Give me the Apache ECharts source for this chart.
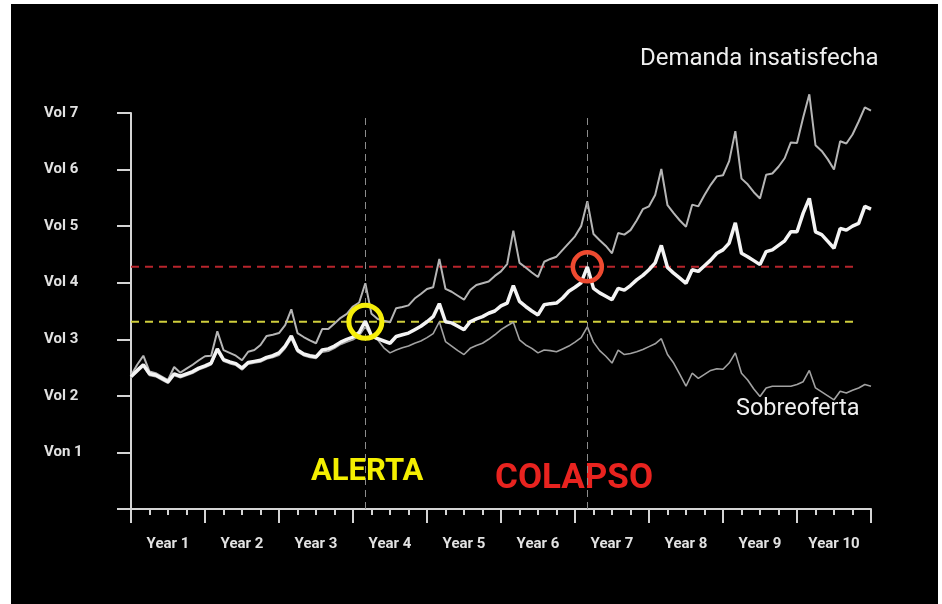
<!DOCTYPE html>
<html><head><meta charset="utf-8">
<script src="https://cdn.jsdelivr.net/npm/echarts@6/dist/echarts.min.js"></script>
<style>
html,body{margin:0;padding:0;background:#fff;}
#bg{position:absolute;left:11px;top:4px;width:927px;height:600px;background:#000;}
#chart{position:absolute;left:0;top:0;width:942px;height:604px;}
</style></head><body>
<div id="bg"></div><div id="chart"></div>
<script>
// ---- data ----
const yearLabels = ['Year 1','Year 2','Year 3','Year 4','Year 5','Year 6','Year 7','Year 8','Year 9','Year 10'];
const yTickLabels = ['', 'Von 1', 'Vol 2', 'Vol 3', 'Vol 4', 'Vol 5', 'Vol 6', 'Vol 7'];

// monthly values, month 0..120
const mainValues = [
2.34, 2.45, 2.55, 2.39, 2.37, 2.31, 2.25, 2.39, 2.35, 2.39,
2.43, 2.49, 2.53, 2.58, 2.83, 2.64, 2.60, 2.57, 2.49, 2.59,
2.61, 2.63, 2.68, 2.71, 2.76, 2.88, 3.06, 2.81, 2.74, 2.71,
2.69, 2.81, 2.83, 2.88, 2.95, 3.00, 3.04, 3.12, 3.32, 3.06,
3.01, 2.97, 2.93, 3.05, 3.08, 3.11, 3.17, 3.23, 3.31, 3.40,
3.63, 3.31, 3.29, 3.23, 3.17, 3.31, 3.36, 3.40, 3.46, 3.50,
3.59, 3.64, 3.95, 3.67, 3.58, 3.50, 3.43, 3.61, 3.63, 3.64,
3.73, 3.85, 3.92, 4.00, 4.28, 3.90, 3.82, 3.76, 3.70, 3.90,
3.87, 3.95, 4.05, 4.13, 4.23, 4.35, 4.66, 4.27, 4.17, 4.08,
3.99, 4.23, 4.20, 4.30, 4.40, 4.52, 4.58, 4.70, 5.06, 4.52,
4.46, 4.39, 4.32, 4.55, 4.58, 4.66, 4.74, 4.90, 4.90, 5.23,
5.49, 4.90, 4.85, 4.73, 4.61, 4.96, 4.93, 5.00, 5.05, 5.35,
5.30
];
const upperValues = [
2.36, 2.55, 2.71, 2.43, 2.40, 2.34, 2.28, 2.51, 2.41, 2.48,
2.55, 2.63, 2.70, 2.71, 3.14, 2.81, 2.76, 2.71, 2.63, 2.78,
2.81, 2.90, 3.06, 3.08, 3.11, 3.25, 3.53, 3.11, 3.04, 2.98,
2.93, 3.18, 3.18, 3.28, 3.38, 3.45, 3.58, 3.65, 3.99, 3.45,
3.36, 3.33, 3.30, 3.55, 3.57, 3.60, 3.72, 3.80, 3.89, 3.92,
4.42, 3.89, 3.84, 3.77, 3.70, 3.87, 3.96, 3.99, 4.02, 4.12,
4.20, 4.33, 4.92, 4.35, 4.27, 4.18, 4.10, 4.37, 4.42, 4.46,
4.58, 4.70, 4.82, 5.00, 5.44, 4.86, 4.75, 4.65, 4.52, 4.88,
4.85, 4.93, 5.10, 5.30, 5.35, 5.55, 6.01, 5.37, 5.23, 5.10,
4.99, 5.38, 5.35, 5.55, 5.73, 5.88, 5.90, 6.15, 6.68, 5.84,
5.74, 5.60, 5.49, 5.91, 5.93, 6.05, 6.20, 6.48, 6.47, 6.92,
7.33, 6.43, 6.33, 6.18, 6.00, 6.50, 6.46, 6.62, 6.85, 7.10,
7.04
];
const lowerValues = [
2.32, 2.42, 2.52, 2.36, 2.34, 2.28, 2.22, 2.36, 2.32, 2.36,
2.40, 2.46, 2.50, 2.55, 2.79, 2.61, 2.57, 2.54, 2.46, 2.56,
2.58, 2.60, 2.65, 2.68, 2.72, 2.84, 3.01, 2.78, 2.71, 2.68,
2.66, 2.77, 2.79, 2.84, 2.91, 2.95, 2.99, 3.06, 3.22, 3.05,
2.99, 2.85, 2.76, 2.81, 2.85, 2.88, 2.93, 2.97, 3.03, 3.10,
3.31, 2.96, 2.88, 2.80, 2.73, 2.84, 2.89, 2.93, 3.00, 3.08,
3.17, 3.24, 3.30, 2.99, 2.90, 2.84, 2.76, 2.81, 2.80, 2.78,
2.83, 2.88, 2.95, 3.03, 3.22, 2.95, 2.80, 2.70, 2.58, 2.81,
2.73, 2.75, 2.78, 2.82, 2.87, 2.92, 3.01, 2.73, 2.58, 2.38,
2.17, 2.40, 2.31, 2.38, 2.45, 2.48, 2.47, 2.58, 2.76, 2.40,
2.28, 2.12, 1.99, 2.14, 2.17, 2.17, 2.17, 2.17, 2.20, 2.25,
2.45, 2.14, 2.07, 2.00, 1.93, 2.08, 2.05, 2.10, 2.14, 2.20,
2.17
];
const alertLevel = 3.31;
const collapseLevel = 4.28;
const alertMonth = 38;
const collapseMonth = 74;
const thresholdEndMonth = 117.4;
const totalMonths = 120;

// ---- chart ----
const axisColor = '#d4d4d4';
const labelColor = '#e2e2e2';
const toPairs = arr => arr.map((v, i) => [i, v]);

const chart = echarts.init(document.getElementById('chart'));
chart.setOption({
  backgroundColor: 'transparent',
  animation: false,
  grid: { left: 131, right: 71, top: 113, bottom: 95 },
  xAxis: [
    {
      type: 'category', data: yearLabels, boundaryGap: true, position: 'bottom',
      axisLine: { show: true, onZero: false, lineStyle: { color: axisColor, width: 2 } },
      axisTick: { show: true, length: 14, interval: 0, lineStyle: { color: axisColor, width: 2 } },
      axisLabel: { color: labelColor, fontWeight: 'bold', fontSize: 15, fontFamily: 'Roboto', margin: 28, interval: 0 },
      splitLine: { show: false }
    },
    {
      type: 'value', min: 0, max: totalMonths, interval: 3, position: 'bottom',
      axisLine: { show: false, onZero: false },
      axisTick: { show: true, length: 6, lineStyle: { color: axisColor, width: 2 } },
      axisLabel: { show: false },
      splitLine: { show: false }
    }
  ],
  yAxis: {
    type: 'value', min: 0, max: 7, interval: 1,
    axisLine: { show: true, onZero: false, lineStyle: { color: axisColor, width: 2 } },
    axisTick: { show: true, length: 14, lineStyle: { color: axisColor, width: 2 } },
    axisLabel: {
      align: 'left', margin: 87, color: labelColor, fontWeight: 'bold', fontSize: 15, fontFamily: 'Roboto',
      formatter: v => yTickLabels[Math.round(v)] || ''
    },
    splitLine: { show: false }
  },
  series: [
    {
      type: 'line', xAxisIndex: 1, data: [[0, collapseLevel], [thresholdEndMonth, collapseLevel]],
      symbol: 'none', lineStyle: { color: '#b8252c', width: 2, type: [8, 6] }, z: 2, silent: true
    },
    {
      type: 'line', xAxisIndex: 1, data: [[0, alertLevel], [thresholdEndMonth, alertLevel]],
      symbol: 'none', lineStyle: { color: '#cfce3c', width: 2, type: [8, 6] }, z: 2, silent: true
    },
    {
      type: 'line', xAxisIndex: 1, data: toPairs(upperValues), symbol: 'none', clip: false,
      lineStyle: { color: '#b5b5b5', width: 2 }, z: 3
    },
    {
      type: 'line', xAxisIndex: 1, data: toPairs(lowerValues), symbol: 'none', clip: false,
      lineStyle: { color: '#a2a2a2', width: 1.6 }, z: 3
    },
    {
      type: 'line', xAxisIndex: 1, data: toPairs(mainValues), symbol: 'none', clip: false,
      lineStyle: { color: '#f4f4f4', width: 3.5 }, z: 5,
      markLine: {
        silent: true, symbol: ['none', 'none'], label: { show: false },
        lineStyle: { color: '#8c8c8c', width: 1, type: [7, 5] },
        data: [{ xAxis: alertMonth }, { xAxis: collapseMonth }]
      }
    },
    {
      type: 'scatter', xAxisIndex: 1, data: [[alertMonth, alertLevel]], symbol: 'circle', symbolSize: 33,
      itemStyle: { color: 'rgba(0,0,0,0)', borderColor: '#f6ee0a', borderWidth: 5, opacity: 1 }, z: 10, silent: true
    },
    {
      type: 'scatter', xAxisIndex: 1, data: [[collapseMonth, collapseLevel]], symbol: 'circle', symbolSize: 29,
      itemStyle: { color: 'rgba(0,0,0,0)', borderColor: '#ee4a30', borderWidth: 4.5, opacity: 1 }, z: 10, silent: true
    }
  ],
  graphic: [
    { type: 'text', x: 640, y: 59, style: { text: 'Demanda insatisfecha', fill: '#efefef', font: '24px Roboto', textVerticalAlign: 'middle' } },
    { type: 'text', x: 736, y: 409, style: { text: 'Sobreoferta', fill: '#efefef', font: '23.5px Roboto', textVerticalAlign: 'middle' } },
    { type: 'text', x: 311, y: 472, style: { text: 'ALERTA', fill: '#f4ef00', font: 'bold 31px Roboto', textVerticalAlign: 'middle' } },
    { type: 'text', x: 495, y: 479, style: { text: 'COLAPSO', fill: '#e8231f', font: 'bold 35px Roboto', textVerticalAlign: 'middle' } }
  ]
});
</script></body></html>
